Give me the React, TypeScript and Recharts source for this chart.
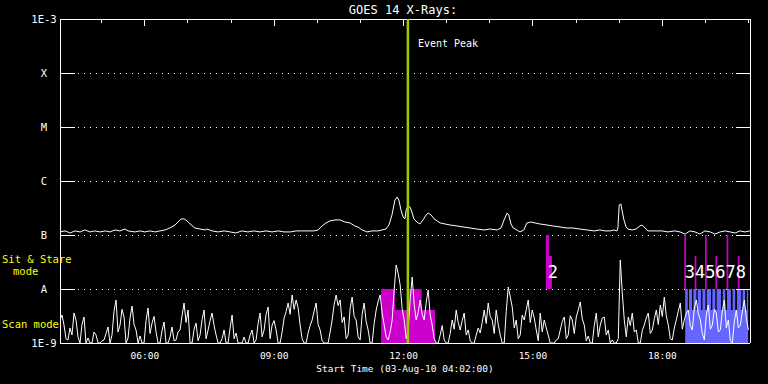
/**
 * GOES 14 X-Ray flux plot (03-Aug-10)
 *
 * - log flux axis with GOES class letters
 * - sit & stare / scan mode blocks
 * - event peak marker
 */

import React from "react";
import {
  ComposedChart,
  Line,
  Area,
  XAxis,
  YAxis,
  CartesianGrid,
  ReferenceLine,
  ReferenceDot,
} from "recharts";

const FONT = "'DejaVu Sans Mono', monospace";

// flux in nW/m^2 (1 = 1E-9 W/m^2)
const levelTicks = [1, 10, 100, 1000, 10000, 100000, 1000000];
const levelNames = ["1E-9", "A", "B", "C", "M", "X", "1E-3"];

// hours of 03-Aug-10
const startHour = 4.033;
const endHour = 20.033;
const hourTicks = [6, 9, 12, 15, 18];
const hourMinorTicks = [5, 7, 8, 10, 11, 13, 14, 16, 17, 19, 20];
const eventPeak = 12.1;

// inward tick lengths, in axis units
const leftTickSpan = 0.348; // hours
const rightTickSpan = 0.325; // hours
const majorTickEnd = 742000; // flux where a long top tick ends
const minorTickEnd = 843000; // flux where a short top tick ends

// long channel (upper curve)
const upperTimes = [
  4.03, 4.15, 4.27, 4.38, 4.5, 4.61, 4.73, 4.84, 4.96, 5.08, 5.19, 5.31, 5.42, 5.54, 5.61, 5.77,
  5.89, 6.0, 6.12, 6.24, 6.35, 6.47, 6.58, 6.7, 6.77, 6.84, 6.91, 6.98, 7.05, 7.16, 7.28, 7.4,
  7.44, 7.56, 7.7, 7.84, 7.98, 8.11, 8.25, 8.39, 8.53, 8.67, 8.81, 8.95, 9.09, 9.23, 9.37, 9.51,
  9.64, 9.78, 9.92, 10.02, 10.11, 10.2, 10.29, 10.41, 10.53, 10.64, 10.76, 10.87, 10.94, 11.04,
  11.15, 11.27, 11.41, 11.5, 11.59, 11.66, 11.73, 11.8, 11.85, 11.89, 11.94, 11.99, 12.03, 12.06,
  12.1, 12.15, 12.2, 12.24, 12.31, 12.38, 12.45, 12.52, 12.57, 12.64, 12.71, 12.78, 12.85, 12.96,
  13.08, 13.24, 13.38, 13.54, 13.7, 13.87, 14.0, 14.17, 14.26, 14.33, 14.4, 14.44, 14.49, 14.54,
  14.63, 14.7, 14.79, 14.86, 14.95, 15.05, 15.16, 15.33, 15.46, 15.63, 15.77, 15.91, 16.09, 16.25,
  16.42, 16.55, 16.67, 16.79, 16.88, 16.95, 16.97, 17.0, 17.04, 17.06, 17.11, 17.16, 17.2, 17.3,
  17.39, 17.48, 17.53, 17.6, 17.67, 17.83, 17.99, 18.13, 18.29, 18.41, 18.53, 18.64, 18.76, 18.87,
  18.99, 19.11, 19.22, 19.34, 19.46, 19.57, 19.69, 19.8, 19.92, 20.03,
];
const upperFlux = [
  114, 119, 109, 119, 114, 124, 114, 119, 114, 119, 114, 124, 119, 129, 119, 114,
  119, 114, 119, 114, 119, 124, 135, 153, 174, 198, 198, 182, 160, 135, 129, 124,
  129, 119, 114, 119, 114, 109, 119, 114, 119, 114, 119, 114, 119, 114, 114, 119,
  119, 119, 119, 124, 147, 167, 182, 190, 190, 174, 167, 147, 141, 124,
  114, 119, 119, 124, 129, 153, 234, 445, 506, 445, 290, 215, 198, 290,
  344, 330, 255, 198, 174, 160, 190, 234, 255, 234, 198, 182, 167, 160,
  153, 147, 141, 135, 129, 124, 129, 124, 135, 190, 255, 234, 160, 135,
  124, 114, 124, 167, 174, 167, 160, 153, 147, 141, 135, 135, 129, 124,
  119, 124, 119, 119, 124, 119, 135, 360, 375, 303, 190, 141, 129, 124,
  129, 147, 153, 135, 119, 119, 119, 114, 119, 114, 104, 119, 114, 104,
  119, 114, 104, 114, 119, 114, 109, 119, 114, 119,
];

// short channel (lower noisy curve), one reading every 0.0464 h
const lowStep = 0.0464;
const lowFlux = [
  2.67, 3.3, 2.15, 1.2, 1.14, 1.9, 1.41, 3.6, 2.67, 1.3, 1, 2.2, 3.03, 1, 1.24, 1, 1, 1.6, 1.41, 1,
  1, 1.1, 1.14, 1.5, 1.98, 1, 1.41, 3.9, 6.26, 1.6, 2.15, 4.2, 3.03, 1, 1.24, 2.9, 4.84, 2.2, 1.74, 1,
  1.35, 1, 1, 2.6, 4.45, 1.5, 2.34, 3.1, 1.6, 1, 1, 1.7, 2.45, 1, 1, 1.3, 1.98, 1.1, 1.14, 1.6,
  1.74, 3.2, 5.5, 2.4, 4.08, 1, 1, 1.8, 2.34, 1.1, 1.41, 2.7, 4.08, 1.2, 1.74, 2.6, 3.59, 2.1, 1.41, 1,
  1, 1.2, 1.74, 1, 1, 1.9, 3.3, 1.2, 1.53, 1, 1, 1, 1.29, 1, 1, 1.4, 1.74, 1, 1.14, 2.3,
  3.59, 1.3, 1.74, 3.4, 4.64, 1.2, 2.15, 2.6, 1.74, 1, 1, 1.6, 2.9, 3.8, 5.5, 3.4, 7.74, 4.2, 6.26, 4.5,
  2.15, 1.2, 1, 1, 1.53, 2.1, 2.67, 3.9, 5.5, 2.2, 1.74, 1.1, 1, 1, 1, 1.6, 2.67, 5.1, 7.74, 4.9,
  6.26, 2.4, 3.03, 1.2, 1.41, 4.4, 7.1, 3.1, 2.67, 1.3, 1.14, 3.4, 5.5, 2.5, 1.74, 1, 1, 2.3, 4.08, 5.9,
  7.74, 3.6, 2.15, 1.3, 1.14, 1.6, 2.67, 9.5, 27.8, 19.5, 11.9, 4.3, 2.67, 1.2, 1.74, 6.4, 16.7, 5.2, 2.67, 3.7,
  6.26, 3.4, 2.67, 5.6, 9.58, 3.3, 2.15, 1.2, 1, 1, 1.41, 2.1, 1.14, 1, 1, 1.5, 2.67, 1.8, 4.08, 2.4,
  1.74, 2.6, 3.59, 1.4, 1.74, 1.1, 1, 1, 1.41, 1.9, 1.53, 2.4, 4.08, 2.3, 5.5, 3.1, 2.67, 1.5, 4.08, 2.2,
  1.41, 1, 1, 3.8, 10.9, 7.2, 4.64, 1.9, 2.67, 1.2, 1.41, 3.3, 2.67, 4.1, 6.26, 2.4, 4.08, 2.9, 1.74, 1.1,
  3.59, 1.6, 2.67, 1.9, 1.41, 1, 1, 1, 1.14, 1.2, 1.74, 2.5, 3.03, 1.2, 1.41, 3.2, 2.67, 1.5, 3.03, 4.1,
  5.75, 2.8, 2.15, 1.1, 1.35, 1, 1, 2.1, 3.59, 1.3, 2.15, 2.9, 3.03, 1.4, 1.74, 1, 1.14, 1, 1, 1.2,
  34.4, 8.5, 2.67, 1.3, 3.03, 2.1, 3.59, 1.6, 1.74, 1, 1, 1.7, 2.15, 2.9, 3.59, 1.5, 1.74, 2.8, 4.08, 2.2,
  5.06, 3.1, 7.1, 3.2, 2.15, 1.2, 1.14, 1.9, 2.67, 3.9, 5.5, 1.8, 2.67, 3.6, 4.08, 2.1, 1.74, 4.4, 6.26, 3.5,
  2.67, 1.5, 1.14, 3.3, 5.06, 1.8, 2.15, 4.2, 3.59, 1.6, 1.74, 3.9, 6.26, 1.9, 2.67, 1.1, 1, 2.5, 4.08, 1.9,
  2.15, 3.8, 6.26, 2.9, 1.74,
];

// sit & stare pointings (magenta), null = gap
const stareTimes = [
  11.48, 11.8, 12.1, 12.42, 12.73, 12.74,
  15.3, 15.37, 15.44, 15.45,
  18.51, 18.55, 18.56, 18.75, 18.79, 18.8, 18.99, 19.03, 19.04,
  19.23, 19.27, 19.28, 19.49, 19.53, 19.54, 19.75, 19.79, 19.8,
];
const stareLow = [
  1, 1, 1, 1, 1, null,
  10, 10, 10, null,
  10, 10, null, 10, 10, null, 10, 10, null,
  10, 10, null, 10, 10, null, 10, 10, null,
];
const stareHigh = [
  10, 4.1, 10, 4.1, 4.1, null,
  100, 41, 41, null,
  100, 100, null, 41, 41, null, 100, 100, null,
  41, 41, null, 100, 100, null, 41, 41, null,
];
const stareNumbers = ["2", "345678"];
const stareNumberTimes = [15.46, 19.23];
const stareNumberFlux = [20.7, 20.7];

// scan mode coverage (blue)
const scanTimes = [
  18.53, 18.59, 18.62, 18.69, 18.72, 18.79, 18.82, 18.9, 18.93, 19.0, 19.03, 19.13, 19.16, 19.23,
  19.26, 19.36, 19.4, 19.46, 19.5, 19.59, 19.63, 19.69, 19.73, 19.83, 19.86, 19.92, 19.96, 19.99,
];
const scanLevels = [
  10, 4.1, 10, 4.1, 10, 4.1, 10, 4.1, 10, 4.1, 10, 4.1, 10, 4.1,
  10, 4.1, 10, 4.1, 10, 4.1, 10, 4.1, 10, 4.1, 10, 4.1, 10, 10,
];

const upperData = upperTimes.map((t, i) => ({ t, flux: upperFlux[i] }));
const lowData = lowFlux.map((flux, i) => ({ t: startHour + i * lowStep, flux }));
const stareData = stareTimes.map((t, i) => ({
  t,
  range: stareHigh[i] == null ? null : [stareLow[i], stareHigh[i]],
}));
const scanData = scanTimes.map((t, i) => ({ t, flux: scanLevels[i] }));

const formatHour = (h: number) => `${String(h).padStart(2, "0")}:00`;

// Y축 레이블: 클래스 문자
const LevelTick = ({ x, y, payload }: any) => (
  <text
    x={x}
    y={y}
    fill="#fff"
    fontSize={10.5}
    fontFamily={FONT}
    textAnchor="middle"
    dominantBaseline="central"
  >
    {levelNames[levelTicks.indexOf(payload.value)]}
  </text>
);

const EventLabel = (props: any) => {
  const { viewBox } = props;
  return (
    <text
      x={viewBox.x + 10}
      y={viewBox.y + 24}
      fill="#fff"
      fontSize={10}
      fontFamily={FONT}
      dominantBaseline="central"
    >
      Event Peak
    </text>
  );
};

const tickProps = {
  stroke: "#fff",
  strokeWidth: 1,
  ifOverflow: "visible" as const,
  shapeRendering: "crispEdges",
};

export default function App() {
  return (
    <div
      style={{
        position: "absolute",
        left: 0,
        top: 0,
        width: 768,
        height: 384,
        background: "#000",
      }}
    >
      <ComposedChart
        width={768}
        height={384}
        margin={{ top: 19, right: 18, bottom: 11, left: 0 }}
      >
        <CartesianGrid
          horizontal
          vertical={false}
          stroke="#fff"
          strokeDasharray="1 5"
          shapeRendering="crispEdges"
        />
        <XAxis
          dataKey="t"
          type="number"
          domain={[startHour, endHour]}
          allowDataOverflow
          ticks={hourTicks}
          tickFormatter={formatHour}
          tickLine={false}
          tickSize={0}
          tickMargin={9}
          height={30}
          axisLine={{ stroke: "#fff", shapeRendering: "crispEdges" }}
          tick={{ fill: "#fff", fontSize: 9.5, fontFamily: FONT }}
        />
        <YAxis
          type="number"
          scale="log"
          domain={[1, 1000000]}
          allowDataOverflow
          ticks={levelTicks}
          tick={<LevelTick />}
          tickLine={false}
          tickSize={0}
          tickMargin={16}
          width={60}
          axisLine={{ stroke: "#fff", shapeRendering: "crispEdges" }}
        />

        {/* frame: top and right edges */}
        <ReferenceLine y={1000000} {...tickProps} />
        <ReferenceLine x={endHour} {...tickProps} />

        {/* inward ticks */}
        {levelTicks.map((v) => (
          <ReferenceLine
            key={`l${v}`}
            {...tickProps}
            segment={[
              { x: startHour, y: v },
              { x: startHour + leftTickSpan, y: v },
            ]}
          />
        ))}
        {levelTicks.map((v) => (
          <ReferenceLine
            key={`r${v}`}
            {...tickProps}
            segment={[
              { x: endHour - rightTickSpan, y: v },
              { x: endHour, y: v },
            ]}
          />
        ))}
        {hourTicks.map((h) => (
          <ReferenceLine
            key={`tM${h}`}
            {...tickProps}
            segment={[
              { x: h, y: 1000000 },
              { x: h, y: majorTickEnd },
            ]}
          />
        ))}
        {hourMinorTicks.map((h) => (
          <ReferenceLine
            key={`tm${h}`}
            {...tickProps}
            segment={[
              { x: h, y: 1000000 },
              { x: h, y: minorTickEnd },
            ]}
          />
        ))}

        <Area
          data={stareData}
          dataKey="range"
          type="stepAfter"
          stroke="none"
          fill="#cc00cc"
          fillOpacity={1}
          isAnimationActive={false}
        />
        <Area
          data={scanData}
          dataKey="flux"
          type="stepAfter"
          baseValue={1}
          stroke="none"
          fill="#6565ff"
          fillOpacity={1}
          isAnimationActive={false}
        />
        <Line
          data={lowData}
          dataKey="flux"
          type="linear"
          stroke="#fff"
          strokeWidth={1}
          dot={false}
          isAnimationActive={false}
        />
        <Line
          data={upperData}
          dataKey="flux"
          type="linear"
          stroke="#fff"
          strokeWidth={1}
          dot={false}
          isAnimationActive={false}
        />
        <ReferenceLine
          x={eventPeak}
          stroke="#9ccc00"
          strokeWidth={2.5}
          label={EventLabel}
        />
        {stareNumbers.map((n, i) => (
          <ReferenceDot
            key={n}
            x={stareNumberTimes[i]}
            y={stareNumberFlux[i]}
            r={0}
            fill="none"
            stroke="none"
            label={{
              value: n,
              position: "center",
              fill: "#fff",
              fontSize: 17,
              fontFamily: FONT,
            }}
          />
        ))}
      </ComposedChart>

      <svg
        width={768}
        height={384}
        style={{ position: "absolute", left: 0, top: 0, pointerEvents: "none" }}
      >
        <text
          x={403}
          y={10}
          fill="#fff"
          fontSize={12}
          fontFamily={FONT}
          textAnchor="middle"
          dominantBaseline="central"
        >
          GOES 14 X-Rays:
        </text>
        <text x={2} y={259} fill="#ffff00" fontSize={10.5} fontFamily={FONT} dominantBaseline="central">
          Sit &amp; Stare
        </text>
        <text x={13} y={271} fill="#ffff00" fontSize={10.5} fontFamily={FONT} dominantBaseline="central">
          mode
        </text>
        <text x={2} y={324} fill="#ffff00" fontSize={10.5} fontFamily={FONT} dominantBaseline="central">
          Scan mode
        </text>
        <text
          x={405}
          y={368}
          fill="#fff"
          fontSize={9.5}
          fontFamily={FONT}
          textAnchor="middle"
          dominantBaseline="central"
        >
          Start Time (03-Aug-10 04:02:00)
        </text>
      </svg>
    </div>
  );
}
